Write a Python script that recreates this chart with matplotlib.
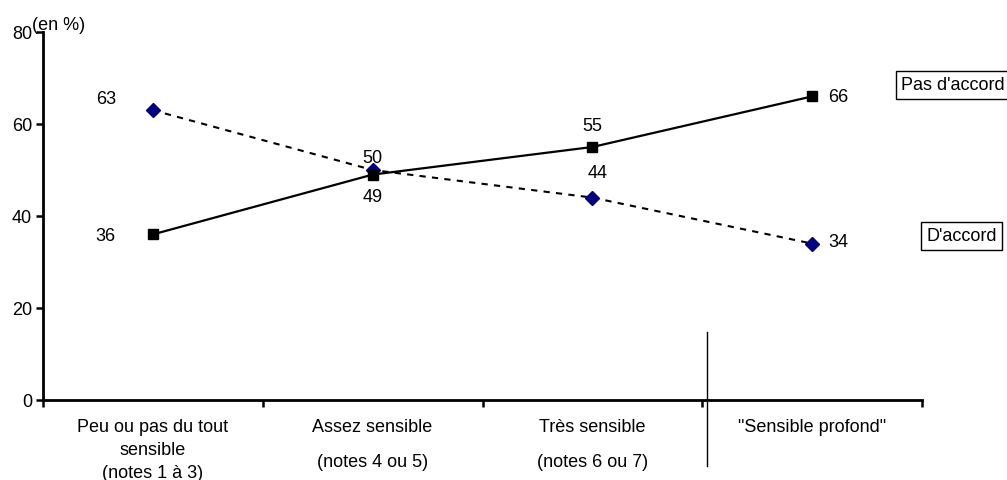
import matplotlib
matplotlib.use("Agg")
import matplotlib.pyplot as plt
from matplotlib.transforms import blended_transform_factory

categories = ['Peu ou pas du tout\nsensible\n(notes 1 à 3)',
              'Assez sensible\n(notes 4 ou 5)',
              'Très sensible\n(notes 6 ou 7)',
              '"Sensible profond"']
pas_accord = [36, 49, 55, 66]
d_accord = [63, 50, 44, 34]
yticks = [0, 20, 40, 60, 80]

W, H = 1007, 481
plt.rcParams['font.family'] = ['Liberation Sans', 'DejaVu Sans']
fig = plt.figure(figsize=(W / 100, H / 100), dpi=100)
ax = fig.add_axes([43 / W, (H - 401) / H, 879 / W, 368 / H])
x = list(range(len(categories)))
fs = 13

ax.plot(x, d_accord, color='black', linestyle=(0, (3, 3)), lw=1.5, zorder=2)
ax.plot(x, d_accord, linestyle='none', marker='D', ms=7, color='#000080', zorder=3)
ax.plot(x, pas_accord, color='black', linestyle='-', lw=1.6, marker='s', ms=7.5,
        markerfacecolor='black', zorder=4)

ax.set_xlim(-0.5, 3.5)
ax.set_ylim(0, 80)
ax.set_yticks(yticks)
ax.set_yticklabels([str(v) for v in yticks], fontsize=fs)
ax.set_xticks([-0.5, 0.5, 1.5, 2.5, 3.5])
ax.set_xticklabels([])
ax.tick_params(axis='y', direction='out', length=5, width=1.8, pad=3)
ax.tick_params(axis='x', direction='out', length=5, width=1.8)
for s in ['top', 'right']:
    ax.spines[s].set_visible(False)
for s in ['left', 'bottom']:
    ax.spines[s].set_linewidth(2)

# category labels below the axis (pixel rows from top of figure)
tr = blended_transform_factory(ax.transData, fig.transFigure)
for i, lab in enumerate(categories):
    lines = lab.split('\n')
    rows = [428, 451, 474] if len(lines) == 3 else [428, 463]
    for line, r in zip(lines, rows):
        ax.text(x[i], 1 - r / H, line, ha='center', va='center', fontsize=fs,
                transform=tr, clip_on=False)

def lab(val, xi, dx, dy):
    # dx, dy in pixels (dy positive = up)
    ax.annotate(str(val), (xi, val), xytext=(dx * 0.72, dy * 0.72),
                textcoords='offset points', ha='center', va='center', fontsize=fs)

# Pas d'accord labels
lab(pas_accord[0], x[0], -47, -1)
lab(pas_accord[1], x[1], 0, -22)
lab(pas_accord[2], x[2], 0, 21)
lab(pas_accord[3], x[3], 26, 0)
# D'accord labels
lab(d_accord[0], x[0], -47, 12)
lab(d_accord[1], x[1], 0, 12)
lab(d_accord[2], x[2], 5, 25)
lab(d_accord[3], x[3], 26, 2)

# separator line
fig.add_artist(plt.Line2D([707 / W, 707 / W], [1 - 333 / H, 1 - 467 / H], color='black', lw=1))

fig.text(32 / W, 1 - 25 / H, '(en %)', fontsize=fs, va='center', ha='left')

fig.text(901 / W, 1 - 86 / H, "Pas d'accord", fontsize=fs, va='center', ha='left',
         bbox=dict(boxstyle='square,pad=0.3', fc='white', ec='black', lw=1))
fig.text(926 / W, 1 - 237 / H, "D'accord", fontsize=fs, va='center', ha='left',
         bbox=dict(boxstyle='square,pad=0.3', fc='white', ec='black', lw=1))

fig.savefig('out.png', dpi=100)
